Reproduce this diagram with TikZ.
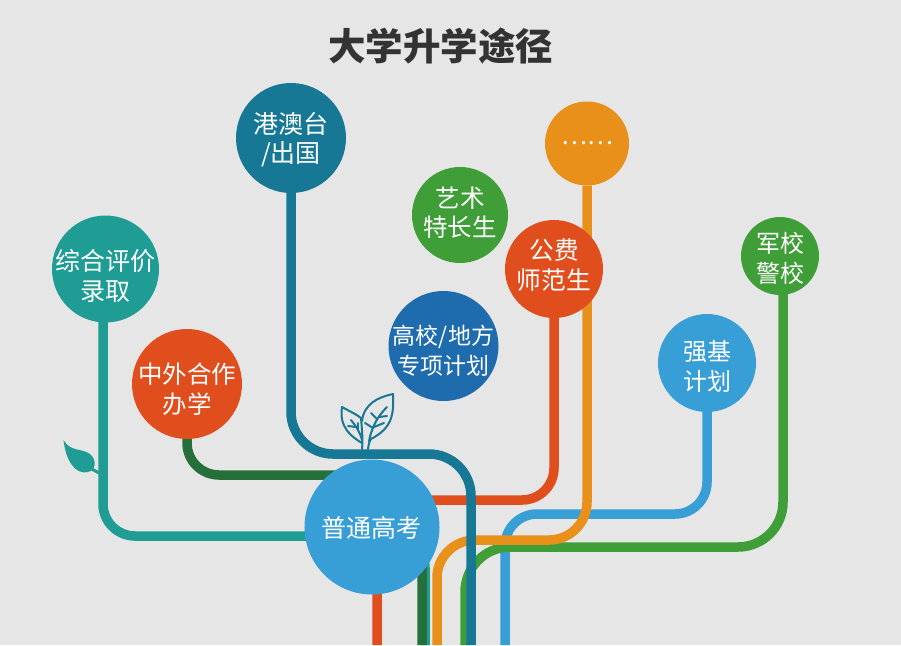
\documentclass[tikz,border=0pt]{standalone}
\usepackage{fontspec}
\setmainfont{Noto Sans CJK SC}
\usetikzlibrary{calc,backgrounds}
\definecolor{bgrey}{HTML}{E6E6E6}
\definecolor{skyblue}{HTML}{389FD6}
\definecolor{seateal}{HTML}{1F9C94}
\definecolor{deepteal}{HTML}{167894}
\definecolor{leafgreen}{HTML}{3F9E38}
\definecolor{pinegreen}{HTML}{25703A}
\definecolor{amber}{HTML}{E8901A}
\definecolor{rust}{HTML}{E04E1E}
\definecolor{royal}{HTML}{1E6BAE}
\tikzset{bubble/.style={
    circle,
    inner sep=0pt,
    minimum size=#1,
  },
  bubbletext/.style={
    align=center,
    text=white,
    font=\fontsize{#1}{29.5}\selectfont,
  },
  pipe/.style={
    line width=9.5pt,
    rounded corners=#1,
  }}

\begin{document}
\begin{tikzpicture}[x=1pt, y=-1pt]
        \useasboundingbox (0,0) rectangle (901,645);

        \node (title) at (440.5,46) [text=black!80,font=\fontsize{37.5}{40}\selectfont\bfseries] {大学升学途径};

        \node (zonghe) at (105.5,269) [bubble=107pt,fill=seateal] {};
        \node (zhongwai) at (187,384) [bubble=110pt,fill=rust] {};
        \node (gangao) at (291,138) [bubble=110pt,fill=deepteal] {};
        \node (more) at (587,143.5) [bubble=84pt,fill=amber] {};
        \node (yishu) at (460,215) [bubble=96pt,fill=leafgreen] {};
        \node (gongfei) at (554,269) [bubble=98pt,fill=rust] {};
        \node (junxiao) at (780,256) [bubble=78pt,fill=leafgreen] {};
        \node (gaoxiao) at (443.5,346) [bubble=110pt,fill=royal] {};
        \node (qiangji) at (707,363) [bubble=98pt,fill=skyblue] {};
        \node (gaokao) at (372,527) [bubble=135pt,fill=skyblue] {};

        \node (zonghetext) at (zonghe) [bubbletext=25,yshift=-7pt] {综合评价\\录取};
        \node (zhongwaitext) at (zhongwai) [bubbletext=24.5,yshift=-5pt] {中外合作\\办学};
        \node (gangaotext) at (gangao) [bubbletext=25,yshift=-1.5pt] {港澳台\\/出国};
        \node (moretext) at (more) [bubbletext=24.5] {……};
        \node (yishutext) at (yishu) [bubbletext=24.5,yshift=2.5pt] {艺术\\特长生};
        \node (gongfeitext) at (gongfei) [bubbletext=24.7,yshift=4pt] {公费\\师范生};
        \node (junxiaotext) at (junxiao) [bubbletext=24,yshift=-2.5pt] {军校\\警校};
        \node (gaoxiaotext) at (gaoxiao) [bubbletext=23,yshift=-4.5pt] {高校/地方\\专项计划};
        \node (qiangjitext) at (qiangji) [bubbletext=24,yshift=-3.5pt] {强基\\计划};
        \node (gaokaotext) at (gaokao) [bubbletext=25,xshift=-1pt,yshift=-1pt] {普通高考};

        % free ends at the bottom edge
        \coordinate (rustend) at (377,645);
        \coordinate (pineend) at (422,645);
        \coordinate (tealend) at (425,645);
        \coordinate (amberend) at (437,645);
        \coordinate (leafend) at (465,645);
        \coordinate (deepend) at (471,645);
        \coordinate (skyend) at (505,645);

        \begin{pgfonlayer}{background}
        \fill[bgrey] (0,0) rectangle (901,645);

        \draw[pipe=32,seateal] ($(zonghe)+(-2.5,0)$) |- (425,536) -- (tealend);
        \draw[pipe=32,pinegreen] (zhongwai) |- (422,475) -- (pineend);
        \draw[pipe=32,rust] (gongfei) |- (377,500) -- (rustend);
        \draw[pipe=32,skyblue] (qiangji) |- (505,514) -- (skyend);
        \draw[pipe=45,leafgreen] ($(junxiao)+(3,0)$) |- (465,547) -- (leafend);
        \draw[pipe=38,amber] (more) |- (437,540) -- (amberend);
        \draw[pipe=42,deepteal] (gangao) |- (471,454) -- (deepend);

        % small leaf on the left stem
        \draw[seateal,line width=3pt] (90,468) -- (101,474);
        \fill[seateal] (63.5,440) .. controls (70,452) and (82,448) .. (90,454)
        .. controls (97,460) and (96,470) .. (88,472)
        .. controls (76,475) and (66,462) .. (63.5,440) -- cycle;

        % sprout above the main bubble
        \begin{scope}[deepteal,line width=2pt,line join=round,line cap=round]
          \draw (362,449) .. controls (363,440) and (362,430) .. (361,418)
          .. controls (356,414) and (349,411) .. (342,407)
          .. controls (340,420) and (343,432) .. (362,443);
          \draw (368,449) .. controls (369,442) and (370,440) .. (371,439)
          .. controls (392,428) and (394,415) .. (393,394)
          .. controls (378,397) and (364,404) .. (362,421);
          \draw (362,440) .. controls (360,432) and (356,426) .. (351,420);
          \draw (356,427) -- (348,426);
          \draw (358,430) -- (358,423);
          \draw (369,441) .. controls (372,426) and (378,416) .. (387,407);
          \draw (373,428) -- (365,423);
          \draw (377,419) -- (371,413);
          \draw (374,427) -- (384,423);
          \draw (379,417) -- (387,416);
        \end{scope}
        \end{pgfonlayer}
      \end{tikzpicture}
\end{document}
